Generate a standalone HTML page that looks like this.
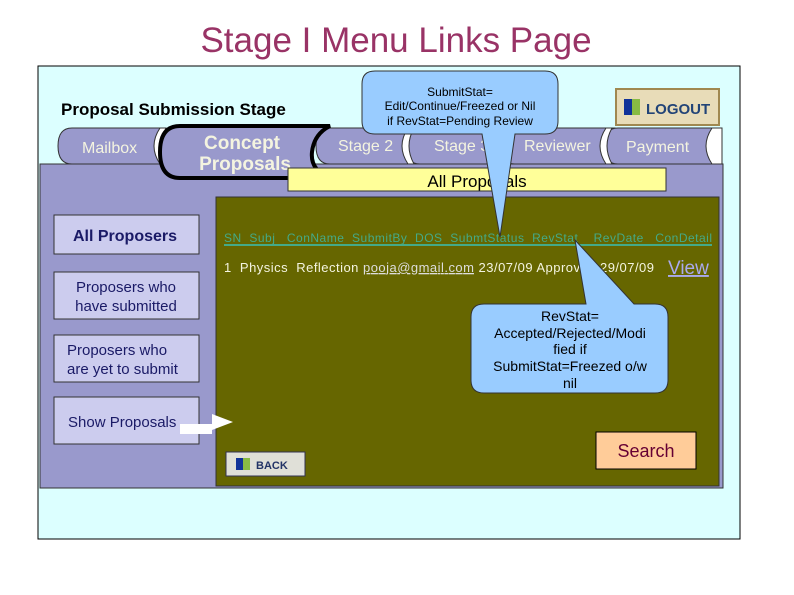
<!DOCTYPE html>
<html><head><meta charset="utf-8"><style>
body{margin:0;background:#fff;width:794px;height:595px;overflow:hidden}
svg{display:block;font-family:"Liberation Sans",sans-serif}
text{white-space:pre}
</style></head><body>
<svg width="794" height="595" viewBox="0 0 794 595">
<text x="396" y="52" font-size="35" fill="#993366" text-anchor="middle">Stage I Menu Links Page</text>
<rect x="38" y="66" width="702" height="473" fill="#dcffff" stroke="#000" stroke-width="1"/>
<text x="61" y="115" font-size="17" font-weight="bold" fill="#000">Proposal Submission Stage</text>
<rect x="40" y="164" width="683" height="324" fill="#9999cc" stroke="#333" stroke-width="1"/>
<g fill="#9999cc" stroke="#333" stroke-width="1">
<path d="M72 128 H165 V164 H72 Q58 164 58 146 Q58 128 72 128Z"/>
<path d="M330 128 H418 V164 H330 Q316 164 316 146 Q316 128 330 128Z"/>
<path d="M420 128 H515 V164 H420 Q406 164 406 146 Q406 128 420 128Z"/>
<path d="M515 128 H615 V164 H515 Q501 164 501 146 Q501 128 515 128Z"/>
<path d="M618 128 H720 V164 H618 Q604 164 604 146 Q604 128 618 128Z"/>
</g>
<g fill="#fff" stroke="#333" stroke-width="1">
<path d="M160 128 Q148 146 160 164 L166 164 Q156 146 166 128Z"/>
<path d="M408 128 Q396 146 408 164 L414 164 Q404 146 414 128Z"/>
<path d="M606 128 Q594 146 606 164 L612 164 Q602 146 612 128Z"/>
<path d="M712 128 Q700 146 712 164 L722 164 L722 128Z"/>
</g>
<g font-size="16" fill="#f4f4e0">
<text x="82" y="153">Mailbox</text>
<text x="338" y="151">Stage 2</text>
<text x="434" y="151">Stage 3</text>
<text x="524" y="151">Reviewer</text>
<text x="626" y="152">Payment</text>
</g>
<path d="M330 126 H180 Q160 126 160 152 Q160 178 180 178 H330 Q310 170 312 152 Q314 134 330 126Z" fill="#9999cc" stroke="#000" stroke-width="4"/>
<text x="242" y="149" font-size="19" font-weight="bold" fill="#f4f4e0" text-anchor="middle">Concept</text>
<text x="245" y="170" font-size="19" font-weight="bold" fill="#f4f4e0" text-anchor="middle">Proposals</text>
<rect x="288" y="168" width="378" height="23" fill="#ffff99" stroke="#333"/>
<text x="477" y="187" font-size="17" text-anchor="middle">All Proposals</text>
<rect x="216" y="197" width="503" height="289" fill="#666600" stroke="#333"/>
<g fill="#ccccee" stroke="#333">
<rect x="54" y="215" width="145" height="39"/>
<rect x="54" y="272" width="145" height="47"/>
<rect x="54" y="335" width="145" height="47"/>
<rect x="54" y="397" width="145" height="47"/>
</g>
<text x="125" y="241" font-size="16" font-weight="bold" fill="#1a1a66" text-anchor="middle">All Proposers</text>
<g font-size="15" fill="#1a1a66">
<text x="126" y="292" text-anchor="middle">Proposers who</text>
<text x="126" y="311" text-anchor="middle">have submitted</text>
<text x="67" y="355">Proposers who</text>
<text x="67" y="374">are yet to submit</text>
<text x="68" y="427">Show Proposals</text>
</g>
<path d="M180 424 H212 V414 L233 422 L212 430 V434 H180Z" fill="#fff"/>
<text x="224" y="242" font-size="12" fill="#44aa88" textLength="488" lengthAdjust="spacing">SN  Subj   ConName  SubmitBy  DOS  SubmtStatus  RevStat    RevDate   ConDetail</text>
<line x1="224" y1="245" x2="712" y2="245" stroke="#44aa88" stroke-width="2"/>
<text x="224" y="272" font-size="13" fill="#f4f4e0" textLength="430" lengthAdjust="spacing">1  Physics  Reflection <tspan fill="#dddddd" text-decoration="underline">pooja@gmail.com</tspan> 23/07/09 Approved 29/07/09</text>
<text x="668" y="274" font-size="19" fill="#aaaaee" text-decoration="underline">View</text>
<path d="M375 71 H545 Q558 71 558 84 V121 Q558 134 545 134 H515 L500 237 L482 134 H375 Q362 134 362 121 V84 Q362 71 375 71Z" fill="#99ccff" stroke="#333"/>
<text x="460" y="96" font-size="12" text-anchor="middle">SubmitStat=</text>
<text x="460" y="110" font-size="12" text-anchor="middle">Edit/Continue/Freezed or Nil</text>
<text x="460" y="125" font-size="12" text-anchor="middle">if RevStat=Pending Review</text>
<path d="M484 304 H586 L575 240 L634 304 H655 Q668 304 668 317 V380 Q668 393 655 393 H484 Q471 393 471 380 V317 Q471 304 484 304Z" fill="#99ccff" stroke="#333"/>
<g font-size="14" text-anchor="middle">
<text x="570" y="321">RevStat=</text>
<text x="570" y="338">Accepted/Rejected/Modi</text>
<text x="570" y="354">fied if</text>
<text x="570" y="371">SubmitStat=Freezed o/w</text>
<text x="570" y="388">nil</text>
</g>
<rect x="226" y="452" width="79" height="24" fill="#e0e0d8" stroke="#335"/>
<rect x="236" y="458" width="7" height="12" fill="#113399"/><rect x="243" y="458" width="7" height="12" fill="#88bb44"/>
<text x="256" y="469" font-size="11" font-weight="bold" fill="#223366">BACK</text>
<rect x="596" y="432" width="100" height="37" fill="#ffcc99" stroke="#000"/>
<text x="646" y="457" font-size="18" fill="#660033" text-anchor="middle">Search</text>
<rect x="616" y="89" width="103" height="36" fill="#e8dcb8" stroke="#a08850" stroke-width="2"/>
<rect x="624" y="99" width="8" height="16" fill="#113399"/><rect x="632" y="99" width="8" height="16" fill="#88bb44"/>
<text x="646" y="114" font-size="15" font-weight="bold" fill="#224477">LOGOUT</text>
</svg>
</body></html>
